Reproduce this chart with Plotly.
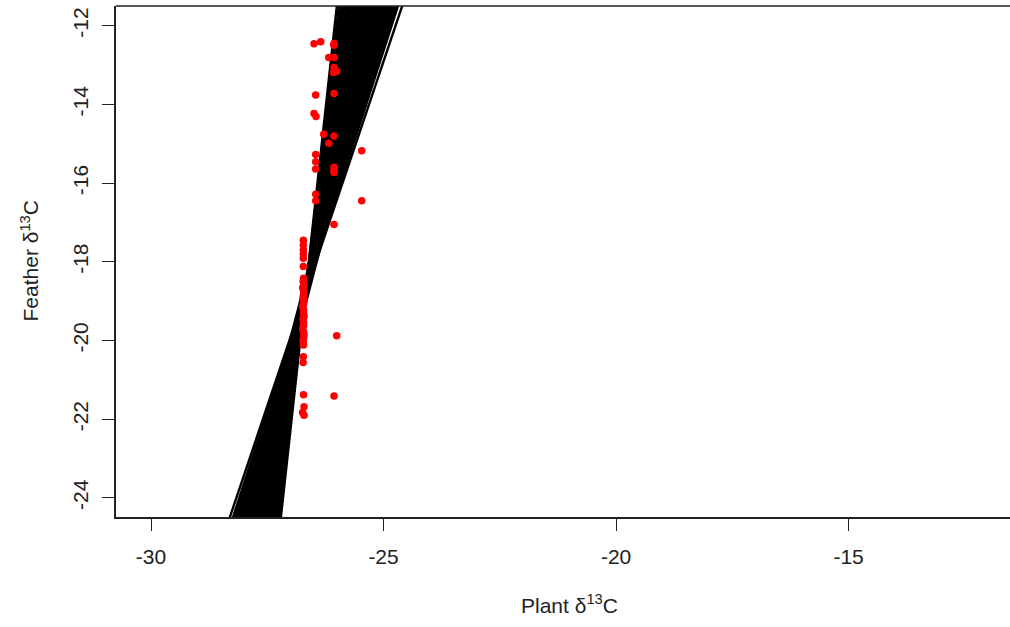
import plotly.graph_objects as go

# ---- data ----
# posterior regression draws (Feather = intercept + slope * Plant)
draw_slope = [10.80, 10.125, 9.592, 9.1125, 8.679, 8.284, 7.924, 7.594, 7.29, 7.010,
              6.75, 6.509, 6.284, 6.075, 5.879, 5.695, 5.523, 5.360, 5.207, 5.0625,
              4.926, 4.796, 4.673, 4.556, 4.445, 4.339, 4.238, 4.142, 4.05, 3.962,
              3.878, 3.817, 3.738, 3.663, 3.505,
              7.0, 7.0, 5.5, 5.5, 4.5, 4.5]
draw_intercept = [269.35, 251.35, 237.12, 224.33, 212.77, 202.23, 192.62, 183.82, 175.71, 168.24,
                  161.30, 154.87, 148.87, 143.29, 138.06, 133.15, 128.56, 124.21, 120.13, 116.28,
                  112.64, 109.17, 105.89, 102.76, 99.80, 96.97, 94.28, 91.72, 89.26, 86.92,
                  84.67, 83.05, 80.94, 78.94, 74.72,
                  168.22, 167.72, 128.25, 127.65, 101.57, 100.97]

plant_d13c = [-26.495, -26.351, -26.065, -26.070, -26.179, -26.059, -26.065, -26.007, -26.072,
              -26.065, -26.459, -26.495, -26.452, -26.287, -26.065, -26.179, -25.470,
              -26.459, -26.459, -26.459, -26.065, -26.065, -26.065, -26.459, -26.459,
              -25.470, -26.065,
              -26.725, -26.725, -26.725, -26.725, -26.725, -26.725,
              -26.72, -26.73, -26.71, -26.74, -26.72, -26.72, -26.73, -26.71, -26.72, -26.74,
              -26.72, -26.72, -26.71, -26.73, -26.72, -26.72, -26.74, -26.72, -26.71, -26.72,
              -26.73, -26.72,
              -26.725, -26.73,
              -26.007, -26.72, -26.065, -26.71, -26.74, -26.71]
feather_d13c = [-12.46, -12.41, -12.45, -12.50, -12.81, -12.81, -13.06, -13.16, -13.19,
                -13.72, -13.76, -14.23, -14.31, -14.76, -14.80, -14.99, -15.18,
                -15.27, -15.46, -15.64, -15.60, -15.66, -15.73, -16.28, -16.45,
                -16.45, -17.05,
                -17.45, -17.57, -17.70, -17.80, -17.91, -18.12,
                -18.42, -18.50, -18.58, -18.66, -18.74, -18.82, -18.90, -18.98, -19.06, -19.14,
                -19.22, -19.30, -19.38, -19.46, -19.54, -19.62, -19.70, -19.78, -19.86, -19.94,
                -20.02, -20.11,
                -20.41, -20.56,
                -19.88, -21.38, -21.41, -21.68, -21.83, -21.90]

x_ticks = [-30, -25, -20, -15]
y_ticks = [-24, -22, -20, -18, -16, -14, -12]
x_range = [-30.753, -11.53]
y_range = [-24.483, -11.50]

FONT = "Arial, Liberation Sans, sans-serif"

fig = go.Figure()

# regression lines (abline across the plotting region)
lx, ly = [], []
for a, b in zip(draw_intercept, draw_slope):
    for xv in x_range:
        lx.append(xv)
        ly.append(a + b * xv)
    lx.append(None)
    ly.append(None)
fig.add_trace(go.Scatter(x=lx, y=ly, mode="lines",
                         line=dict(color="black", width=2.4),
                         hoverinfo="skip", showlegend=False))

fig.add_trace(go.Scatter(x=plant_d13c, y=feather_d13c, mode="markers",
                         marker=dict(color="#ff0000", size=7.5, line=dict(width=0)),
                         showlegend=False))

axis_common = dict(showgrid=False, zeroline=False, showline=True, linecolor="#222",
                   linewidth=1.5, ticks="outside", ticklen=12, tickwidth=1.3,
                   tickcolor="#222", tickfont=dict(family=FONT, size=21, color="#222"))

fig.update_xaxes(range=x_range, tickvals=x_ticks, ticktext=[str(v) for v in x_ticks],
                 ticklabelstandoff=8, **axis_common)
fig.update_yaxes(range=y_range, tickvals=y_ticks, ticktext=[str(v) for v in y_ticks],
                 tickangle=-90, ticklabelstandoff=6, **axis_common)

# top box edge
fig.add_shape(type="line", xref="paper", yref="paper", x0=0, x1=1, y0=1, y1=1,
              line=dict(color="#222", width=1.5))

fig.add_annotation(text="Plant δ<sup>13</sup>C", xref="paper", yref="paper",
                   x=(569 - 116) / 894, y=(517 - 604) / 511, xanchor="center",
                   yanchor="middle", showarrow=False,
                   font=dict(family=FONT, size=21, color="#222"))
fig.add_annotation(text="Feather δ<sup>13</sup>C", xref="paper", yref="paper",
                   x=(29 - 116) / 894, y=0.5, xanchor="center", yanchor="middle",
                   textangle=-90, showarrow=False,
                   font=dict(family=FONT, size=21, color="#222"))

fig.update_layout(width=1010, height=627, margin=dict(l=116, r=0, t=6, b=110),
                  plot_bgcolor="white", paper_bgcolor="white", showlegend=False)

fig.write_html("out.html", config={"displayModeBar": False},
               post_script="document.body.style.margin='0';document.body.style.overflow='hidden';")
